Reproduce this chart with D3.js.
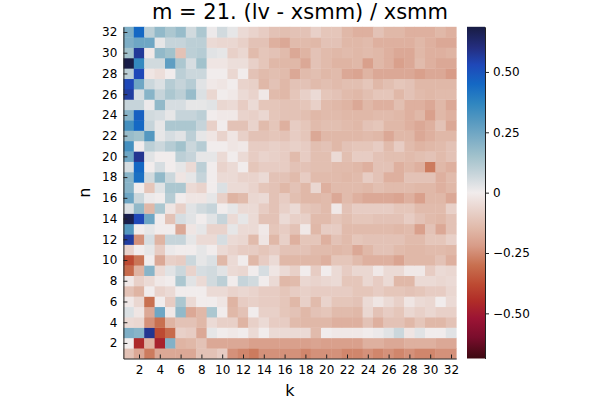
<!DOCTYPE html>
<html>

<head>
    <style>
        body { margin: 0; background: #fff; }
        text { font-family: "DejaVu Sans", sans-serif; }
    </style>
    <script src="https://d3js.org/d3.v7.min.js"></script>
</head>

<body>

    <svg width="600" height="400"></svg>

    <script>

        const title = "m = 21. (lv - xsmm) / xsmm"
        const kValues = d3.range(1, 33)
        const nValues = d3.range(1, 33)
        const xTicks = d3.range(2, 33, 2)
        const yTicks = d3.range(2, 33, 2)
        const cbTicks = [-0.5, -0.25, 0, 0.25, 0.5]
        const cbTickLabels = ["\u22120.50", "\u22120.25", "0", "0.25", "0.50"]
        const colorLimit = 0.687

        // values[n-1][k-1]
        const values = [
            [-0.12, -0.19, -0.28, -0.19, -0.19, -0.19, -0.19, -0.12, -0.12, -0.09, -0.24, -0.26, -0.28, -0.24, -0.24, -0.24, -0.24, -0.26, -0.24, -0.24, -0.24, -0.26, -0.26, -0.24, -0.26, -0.24, -0.26, -0.24, -0.26, -0.26, -0.24, -0.24],
            [0, -0.46, -0.16, -0.48, 0.21, -0.16, -0.15, -0.12, -0.19, -0.19, -0.19, -0.19, -0.21, -0.21, -0.21, -0.21, -0.21, -0.21, -0.2, -0.21, -0.21, -0.21, -0.21, -0.17, -0.17, -0.19, -0.19, -0.17, -0.17, -0.17, -0.19, -0.19],
            [0.22, 0.2, 0.58, -0.38, -0.31, -0.08, -0.09, -0.19, 0.02, 0, -0.01, 0, -0.05, 0, -0.05, -0.05, -0.05, -0.05, -0.14, 0, -0.01, -0.01, -0.01, 0, 0.01, 0.03, 0.07, -0.02, 0.03, 0, 0, 0.03],
            [-0.05, -0.06, -0.24, -0.3, -0.16, -0.12, -0.12, -0.15, -0.05, -0.08, -0.08, -0.16, -0.08, -0.05, -0.09, -0.09, -0.14, -0.15, -0.15, -0.15, -0.17, -0.17, -0.17, -0.12, -0.17, -0.12, -0.12, -0.15, -0.11, -0.15, -0.15, -0.12],
            [0.04, -0.02, -0.19, 0.25, -0.01, 0.18, -0.19, -0.15, 0.13, 0, -0.15, -0.12, 0, -0.08, -0.08, -0.11, -0.12, -0.15, -0.12, -0.11, -0.14, -0.14, -0.15, -0.06, -0.12, -0.09, -0.11, -0.06, -0.08, -0.06, -0.08, -0.08],
            [-0.01, -0.06, -0.3, 0, -0.09, 0.13, -0.05, 0, 0, -0.02, -0.16, -0.09, -0.08, -0.09, -0.09, -0.11, -0.15, -0.08, -0.14, -0.07, -0.11, -0.11, -0.12, -0.05, -0.02, -0.05, -0.08, -0.02, -0.05, -0.06, 0, -0.05],
            [-0.12, -0.16, 0, -0.07, -0.05, 0, 0, 0, -0.05, -0.05, -0.07, -0.06, -0.07, -0.09, -0.09, -0.11, -0.09, -0.08, -0.09, -0.09, -0.09, -0.09, -0.11, -0.11, -0.09, -0.11, -0.11, -0.12, -0.11, -0.09, -0.09, -0.06],
            [-0.01, -0.08, -0.05, -0.01, 0, 0.13, 0.03, -0.05, 0.06, 0.1, 0, 0.08, 0.06, 0, -0.05, -0.15, -0.14, -0.06, -0.07, -0.06, -0.05, -0.11, -0.11, -0.06, -0.09, -0.05, -0.15, -0.15, -0.05, -0.05, -0.06, -0.05],
            [-0.31, -0.16, 0.2, -0.05, 0.03, 0.07, -0.07, 0.05, 0.06, 0.03, -0.05, -0.06, 0, 0.05, -0.02, -0.05, -0.08, 0, -0.09, 0, -0.05, -0.09, -0.06, -0.06, -0.01, -0.05, -0.05, -0.01, -0.01, -0.09, -0.05, -0.06],
            [-0.38, -0.29, 0, -0.19, -0.08, -0.09, 0.07, 0.02, 0.04, -0.15, -0.05, 0, -0.15, -0.09, -0.05, -0.15, -0.15, -0.15, -0.15, -0.17, -0.11, -0.11, -0.14, -0.17, -0.17, -0.17, -0.2, -0.15, -0.15, -0.15, -0.12, -0.17],
            [-0.07, 0, 0.02, -0.09, 0.01, 0, 0, 0.02, 0, -0.05, -0.07, -0.09, -0.09, -0.11, -0.09, -0.12, -0.12, -0.12, -0.14, -0.14, -0.15, -0.14, -0.19, -0.15, -0.12, -0.12, -0.14, -0.15, -0.15, -0.14, -0.14, -0.15],
            [0.56, -0.24, 0.05, -0.16, 0.08, 0.08, 0.02, -0.05, -0.05, 0.05, -0.05, -0.06, -0.14, -0.02, -0.15, -0.08, -0.17, -0.11, -0.11, -0.17, -0.12, -0.14, -0.11, -0.12, -0.12, -0.12, -0.12, -0.14, -0.14, -0.11, -0.11, -0.08],
            [0.3, 0, 0.02, 0, 0, -0.19, -0.02, 0.02, -0.07, -0.07, 0.02, -0.05, -0.05, -0.01, -0.11, -0.09, -0.12, -0.01, -0.15, -0.09, -0.09, -0.14, -0.14, -0.14, -0.14, -0.14, -0.15, -0.14, -0.21, -0.12, -0.19, -0.12],
            [0.67, 0.53, 0.25, 0, -0.12, 0.05, 0.03, 0, 0.03, 0.08, -0.05, 0.02, -0.05, -0.12, -0.12, -0.05, -0.08, -0.08, -0.14, -0.14, -0.11, -0.13, -0.11, -0.11, -0.12, -0.12, -0.12, -0.09, -0.12, -0.14, -0.15, -0.12],
            [0.04, 0.18, -0.15, 0.13, -0.02, -0.08, 0.03, 0.06, 0.08, 0, 0.02, -0.05, -0.05, -0.09, -0.12, -0.08, -0.05, -0.11, -0.12, -0.14, -0.01, -0.12, -0.09, -0.09, -0.09, -0.09, -0.11, -0.11, -0.14, -0.14, -0.14, -0.08],
            [0.25, 0.07, 0.01, 0, 0.11, 0, -0.02, -0.02, 0.02, -0.08, -0.16, -0.14, -0.06, -0.05, -0.12, -0.09, -0.13, -0.15, -0.15, -0.14, -0.19, -0.14, -0.17, -0.19, -0.19, -0.19, -0.2, -0.17, -0.21, -0.15, -0.15, -0.19],
            [0.2, 0, -0.11, 0.03, 0.13, 0.13, -0.05, -0.07, 0, 0.04, -0.05, -0.05, -0.07, -0.11, -0.12, -0.15, -0.12, -0.15, -0.06, -0.17, -0.14, -0.14, -0.14, -0.15, -0.13, -0.14, -0.14, -0.14, -0.15, -0.15, -0.17, -0.15],
            [0.2, 0.43, 0.06, 0.18, 0.07, -0.02, 0.02, 0.08, 0, -0.05, -0.05, -0.07, -0.07, -0.05, -0.12, -0.12, -0.14, -0.09, -0.14, -0.14, -0.14, -0.15, -0.14, -0.09, -0.12, -0.17, -0.17, -0.12, -0.12, -0.12, -0.17, -0.14],
            [0.05, 0.45, 0, 0.05, 0, 0.02, -0.05, 0.1, 0, -0.07, -0.05, 0, -0.11, -0.09, -0.09, -0.09, -0.12, -0.12, -0.13, -0.13, -0.14, -0.14, -0.15, -0.17, -0.12, -0.12, -0.17, -0.15, -0.17, -0.28, -0.15, -0.17],
            [0.25, 0.58, 0.03, 0, 0, 0.1, 0.08, 0.02, 0.02, -0.05, 0, -0.05, -0.09, -0.07, -0.08, -0.09, -0.14, -0.09, -0.13, -0.13, -0.05, -0.13, -0.09, -0.09, -0.12, -0.13, -0.13, -0.14, -0.13, -0.12, -0.14, -0.12],
            [0.33, 0, 0.1, 0.07, 0.11, 0.15, 0.07, 0.11, 0, 0, -0.02, -0.01, -0.09, -0.09, -0.08, -0.09, -0.08, -0.09, -0.13, -0.12, -0.15, -0.12, -0.11, -0.11, -0.09, -0.14, -0.09, -0.14, -0.16, -0.15, -0.14, -0.12],
            [0.17, 0.15, 0.3, 0.02, 0.05, 0.03, 0.1, 0.02, -0.02, -0.07, -0.02, -0.08, -0.12, -0.12, -0.11, -0.12, -0.09, -0.11, -0.19, -0.15, -0.15, -0.15, -0.15, -0.14, -0.15, -0.19, -0.15, -0.15, -0.19, -0.17, -0.15, -0.15],
            [0.33, 0.45, 0.08, 0.02, 0.13, 0.13, 0.13, 0.08, -0.08, 0, -0.12, -0.12, -0.07, -0.14, -0.11, -0.17, -0.09, -0.11, -0.14, -0.13, -0.13, -0.14, -0.15, -0.12, -0.11, -0.15, -0.15, -0.17, -0.19, -0.17, -0.12, -0.19],
            [0.2, 0.47, 0.06, 0.05, 0.02, 0.08, 0.08, 0.1, 0, -0.01, -0.01, -0.07, -0.08, -0.06, -0.11, -0.12, -0.12, -0.13, -0.15, -0.14, -0.14, -0.15, -0.15, -0.15, -0.14, -0.14, -0.15, -0.17, -0.15, -0.21, -0.15, -0.17],
            [0.08, 0.08, 0.01, 0.18, 0.05, 0.05, 0.02, 0.02, 0.03, -0.06, -0.05, -0.09, -0.05, -0.11, -0.11, -0.12, -0.12, -0.11, -0.08, -0.14, -0.15, -0.16, -0.19, -0.15, -0.17, -0.17, -0.13, -0.17, -0.17, -0.19, -0.15, -0.19],
            [0.56, 0.05, 0.2, 0.08, 0.13, 0.1, 0.17, 0.04, -0.06, 0, -0.01, -0.05, -0.07, -0.01, -0.14, -0.15, -0.11, -0.08, -0.05, -0.11, -0.12, -0.14, -0.15, -0.13, -0.11, -0.11, -0.15, -0.12, -0.14, -0.15, -0.14, -0.14],
            [0.53, 0.25, 0.07, 0.04, 0.11, 0.08, 0.11, 0.03, -0.01, -0.02, 0, -0.07, -0.08, -0.15, -0.12, -0.15, -0.12, -0.12, -0.14, -0.13, -0.14, -0.13, -0.13, -0.11, -0.15, -0.13, -0.11, -0.12, -0.15, -0.15, -0.15, -0.15],
            [0.1, 0.53, -0.02, -0.04, 0, 0.1, 0.07, 0.07, 0, 0, -0.06, 0, -0.12, -0.14, -0.13, -0.14, -0.19, -0.14, -0.13, -0.15, -0.14, -0.19, -0.2, -0.16, -0.19, -0.19, -0.19, -0.19, -0.21, -0.19, -0.19, -0.22],
            [0.68, 0.36, 0.06, 0.06, 0.28, 0.13, 0.05, 0.15, -0.02, -0.02, -0.04, -0.04, -0.08, -0.11, -0.15, -0.15, -0.15, -0.19, -0.12, -0.14, -0.16, -0.16, -0.15, -0.21, -0.15, -0.17, -0.21, -0.19, -0.14, -0.17, -0.19, -0.19],
            [0.15, 0.57, -0.01, 0.18, 0.15, -0.12, 0.1, 0.11, 0.03, 0.02, -0.08, -0.06, -0.14, -0.11, -0.12, -0.14, -0.19, -0.16, -0.12, -0.14, -0.15, -0.14, -0.15, -0.14, -0.15, -0.17, -0.19, -0.19, -0.15, -0.17, -0.17, -0.16],
            [0.22, 0.25, 0.25, 0.02, 0.08, 0.08, 0.1, 0.1, -0.05, -0.06, -0.06, -0.08, -0.12, -0.12, -0.17, -0.19, -0.14, -0.14, -0.15, -0.12, -0.12, -0.15, -0.15, -0.14, -0.17, -0.17, -0.17, -0.17, -0.15, -0.17, -0.19, -0.19],
            [0.22, 0.45, 0.1, 0.18, 0.13, 0.17, 0.06, 0.13, 0.01, 0.06, 0.02, -0.05, -0.07, -0.09, -0.12, -0.13, -0.12, -0.12, -0.08, -0.11, -0.11, -0.15, -0.17, -0.17, -0.12, -0.15, -0.15, -0.17, -0.17, -0.17, -0.15, -0.17]
        ]

        // reversed "balance" colormap: red for negative, blue for positive
        const cmapPos = [-1, -0.873, -0.757, -0.655, -0.553, -0.437, -0.32, -0.218, -0.116, 0, 0.116, 0.218, 0.32, 0.437, 0.539, 0.655, 0.771, 0.873, 1]
        const cmapCol = ["#3c0911", "#7a0d2c", "#9c1434", "#b02c28", "#bd4a32", "#c87050", "#d89c88", "#e0b8a8", "#e8d0c8", "#f1ecec",
            "#c6d4da", "#a2c2cc", "#7eaec6", "#5498c0", "#2f86c0", "#1468c4", "#1f48b8", "#242e80", "#181c43"]

        const color = d3.scaleLinear()
            .domain(cmapPos.map(p => p * colorLimit))
            .range(cmapCol)
            .interpolate(d3.interpolateRgb)
            .clamp(true)

        const svg = d3.select("svg")

        const x = d3.scaleLinear().domain([0.5, 32.5]).range([123.4, 456.2])
        const y = d3.scaleLinear().domain([0.5, 32.5]).range([358.5, 26.8])

        const cells = []
        nValues.forEach((n, i) => {
            kValues.forEach((k, j) => {
                cells.push({ k: k, n: n, v: values[i][j] })
            })
        })

        svg.append("g")
            .selectAll("rect")
            .data(cells)
            .join("rect")
            .attr("x", d => x(d.k - 0.5))
            .attr("y", d => y(d.n + 0.5))
            .attr("width", d => x(d.k + 0.5) - x(d.k - 0.5) + 0.4)
            .attr("height", d => y(d.n - 0.5) - y(d.n + 0.5) + 0.4)
            .attr("fill", d => color(d.v))

        // axes
        const xAxis = svg.append("g")
            .attr("transform", `translate(0,${y(0.5)})`)
            .call(d3.axisBottom(x).tickValues(xTicks).tickSizeInner(-4).tickSizeOuter(0).tickPadding(7))
        const yAxis = svg.append("g")
            .attr("transform", `translate(${x(0.5)},0)`)
            .call(d3.axisLeft(y).tickValues(yTicks).tickSizeInner(-4).tickSizeOuter(0).tickPadding(6))

        for (const ax of [xAxis, yAxis]) {
            ax.selectAll("text").style("font-size", "12px").attr("fill", "#000")
            ax.selectAll("line").attr("stroke", "#222")
            ax.select(".domain").attr("stroke", "#222")
        }

        svg.append("text")
            .attr("x", 300)
            .attr("y", 19)
            .attr("text-anchor", "middle")
            .style("font-size", "21px")
            .text(title)

        svg.append("text")
            .attr("x", x(16.5))
            .attr("y", 396)
            .attr("text-anchor", "middle")
            .style("font-size", "16px")
            .text("k")

        svg.append("text")
            .attr("transform", `translate(90,${y(16.5)}) rotate(-90)`)
            .attr("text-anchor", "middle")
            .style("font-size", "16px")
            .text("n")

        // colorbar
        const cb = d3.scaleLinear().domain([-colorLimit, colorLimit]).range([358.5, 26.8])
        const grad = svg.append("defs").append("linearGradient")
            .attr("id", "cbgrad")
            .attr("x1", 0).attr("y1", 1).attr("x2", 0).attr("y2", 0)
        grad.selectAll("stop")
            .data(cmapPos)
            .join("stop")
            .attr("offset", p => (p + 1) / 2)
            .attr("stop-color", (p, i) => cmapCol[i])

        svg.append("rect")
            .attr("x", 467)
            .attr("y", cb(colorLimit))
            .attr("width", 18)
            .attr("height", cb(-colorLimit) - cb(colorLimit))
            .attr("fill", "url(#cbgrad)")

        const cbAxis = svg.append("g")
            .attr("transform", "translate(485,0)")
            .call(d3.axisRight(cb).tickValues(cbTicks).tickFormat((d, i) => cbTickLabels[i]).tickSizeInner(4).tickSizeOuter(0).tickPadding(4))
        cbAxis.selectAll("text").style("font-size", "12px").attr("fill", "#000")
        cbAxis.selectAll("line").attr("stroke", "#222")
        cbAxis.select(".domain").attr("stroke", "#222")

    </script>
</body>

</html>
